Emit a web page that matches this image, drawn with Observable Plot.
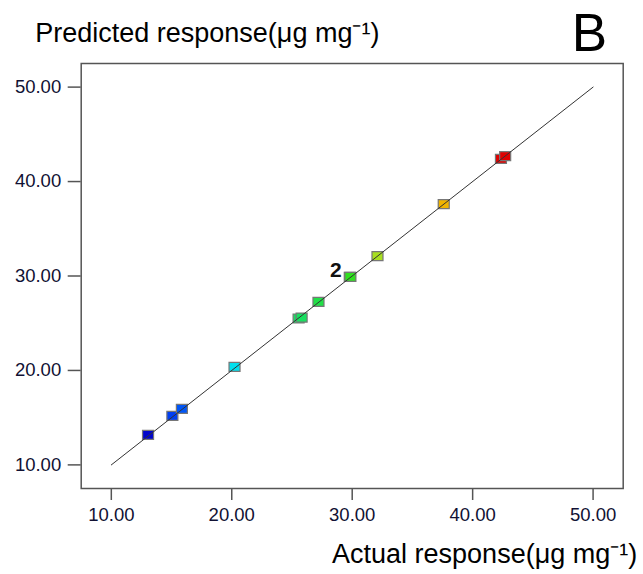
<!DOCTYPE html>
<html>
<head>
<meta charset="utf-8">
<script src="https://cdn.jsdelivr.net/npm/d3@7"></script>
<script src="https://cdn.jsdelivr.net/npm/@observablehq/plot@0.6"></script>
<style>
  html, body { margin: 0; padding: 0; background: #fff; }
  #chart { width: 643px; height: 574px; }
  svg { font-family: "Liberation Sans", Arial, sans-serif; }
</style>
</head>
<body>
<div id="chart"></div>
<script>
// Design points: actual vs predicted response (µg mg-1)
const actual    = [13.05, 15.07, 15.86, 20.23, 25.55, 25.80, 27.20, 29.80, 29.85, 32.10, 37.60, 42.35, 42.70];
const predicted = [13.17, 15.19, 15.93, 20.37, 25.50, 25.60, 27.25, 29.90, 29.90, 32.10, 37.60, 42.40, 42.70];
// Replicate count label
const labelX = [29.8];
const labelY = [29.9];
const labelText = ["2"];
// Fit line (y = x)
const lineX = [10, 50];
const lineY = [10, 50];
// Tick values
const ticks = [10, 20, 30, 40, 50];

const points = actual.map((a, i) => ({actual: a, predicted: predicted[i], order: i}));
const fitLine = lineX.map((x, i) => ({x, y: lineY[i]}));
const labels = labelX.map((x, i) => ({x, y: labelY[i], text: labelText[i]}));

const rectSymbol = {
  draw(context, size) {
    const w = 5.5, h = 4.5;
    context.rect(-w, -h, 2 * w, 2 * h);
  }
};

const chart = Plot.plot({
  width: 643,
  height: 574,
  marginLeft: 80.7,
  marginRight: 20.3,
  marginTop: 63,
  marginBottom: 86,
  style: {fontFamily: "Liberation Sans, Arial, sans-serif", background: "#fff"},
  x: {domain: [7.5, 52.5], ticks: ticks, tickFormat: d3.format(".2f"), label: null},
  y: {domain: [7.5, 52.5], ticks: ticks, tickFormat: d3.format(".2f"), label: null},
  color: {
    type: "linear",
    domain: [13, 15.5, 20.3, 25.6, 29.9, 32.1, 37.6, 42.4],
    range: ["#0000c8", "#0048f8", "#00e0f0", "#18e060", "#30e020", "#a8e020", "#f0b400", "#e00000"],
    interpolate: "rgb"
  },
  marks: [
    Plot.axisX({ticks, tickFormat: d3.format(".2f"), tickSize: 12, tickPadding: 7, fontSize: 18.5, stroke: "#555", strokeWidth: 1.5, fill: "#111133", strokeOpacity: 1, label: null}),
    Plot.axisY({ticks, tickFormat: d3.format(".2f"), tickSize: 13, tickPadding: 7, fontSize: 18.5, stroke: "#555", strokeWidth: 1.5, fill: "#111133", strokeOpacity: 1, label: null}),
    Plot.frame({stroke: "#555", strokeWidth: 1.5}),
    Plot.dot(points, {x: "actual", y: "predicted", symbol: rectSymbol, r: 5, fill: "predicted", stroke: "#777", strokeWidth: 1.2}),
    Plot.line(fitLine, {x: "x", y: "y", stroke: "#333", strokeWidth: 1}),
    Plot.text(labels, {x: "x", y: "y", text: "text", dx: -14, dy: -7, fontSize: 21, fontWeight: "bold", fill: "#111"}),
    Plot.text(["Predicted response(μg mg⁻¹)"], {frameAnchor: "top-left", lineAnchor: "middle", dx: -46, dy: -30, fontSize: 27, textAnchor: "start", fill: "#000"}),
    Plot.text(["B"], {frameAnchor: "top-right", lineAnchor: "middle", dx: -16, dy: -29, fontSize: 53, textAnchor: "end", fill: "#000"}),
    Plot.text(["Actual response(μg mg⁻¹)"], {frameAnchor: "bottom-right", lineAnchor: "middle", dx: 14, dy: 66, fontSize: 27, textAnchor: "end", fill: "#000"})
  ]
});
document.getElementById("chart").appendChild(chart);
</script>
</body>
</html>
